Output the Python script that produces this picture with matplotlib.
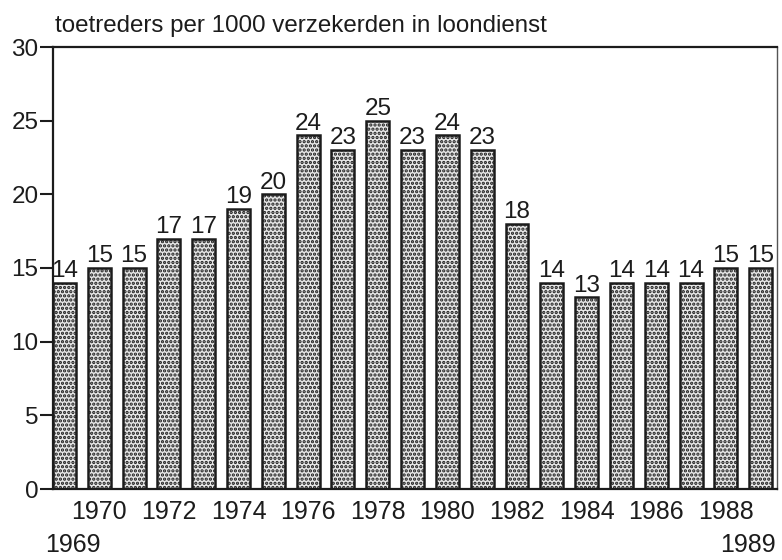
import matplotlib.pyplot as plt
import numpy as np

plt.rcParams['font.family'] = ['Liberation Sans', 'DejaVu Sans']
plt.rcParams['hatch.linewidth'] = 1.6

years = list(range(1969, 1990))
values = [14, 15, 15, 17, 17, 19, 20, 24, 23, 25, 23, 24, 23, 18, 14, 13, 14, 14, 14, 15, 15]
title = 'toetreders per 1000 verzekerden in loondienst'
yticks = [0, 5, 10, 15, 20, 25, 30]

ink = '#1c1c1c'

fig = plt.figure(figsize=(7.82, 5.6), dpi=100)
ax = fig.add_axes([53 / 782, 71 / 560, 724 / 782, 442 / 560])

x = np.arange(len(years))
bars = ax.bar(x, values, width=0.66, facecolor='#e6e6e6', edgecolor=ink,
              linewidth=1.8, hatch='....')

for xi, v in zip(x, values):
    ax.text(xi, v + 0.05, str(v), ha='center', va='bottom', fontsize=17.5, color=ink)

ax.set_xlim(-0.33, 20.47)
ax.set_ylim(0, 30)

# even years on the first row
major = [i for i, y in enumerate(years) if y % 2 == 0]
ax.set_xticks(major)
ax.set_xticklabels([str(years[i]) for i in major], fontsize=18, color=ink)
ax.tick_params(axis='x', which='major', length=0, pad=8)

# first and last year on a second row, at the corners
ax.text(-0.011, -0.143, str(years[0]), transform=ax.transAxes, ha='left',
        va='baseline', fontsize=18, color=ink)
ax.text(0.998, -0.143, str(years[-1]), transform=ax.transAxes, ha='right',
        va='baseline', fontsize=18, color=ink)

ax.set_yticks(yticks)
ax.set_yticklabels([str(t) for t in yticks], fontsize=17.5, color=ink)
ax.tick_params(axis='y', length=9.5, width=1.5, pad=1, color=ink)

for side in ['left', 'bottom', 'top']:
    ax.spines[side].set_linewidth(1.6)
    ax.spines[side].set_color(ink)
ax.spines['right'].set_linewidth(1.0)
ax.spines['right'].set_color('#555555')

ax.text(0.003, 1.034, title, transform=ax.transAxes, ha='left', va='baseline',
        fontsize=17.4, color=ink)

plt.savefig('out.png', dpi=100)
